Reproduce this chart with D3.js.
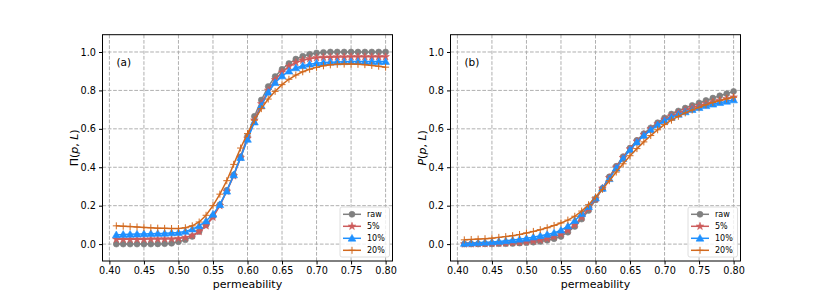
<!DOCTYPE html>
<html>
<head>
<meta charset="utf-8">
<script src="https://cdn.jsdelivr.net/npm/d3@7"></script>
<style>
  body { margin: 0; background: #fff; }
  svg { display: block; font-family: "DejaVu Sans", sans-serif; }
</style>
</head>
<body>
<div id="chart"></div>
<script>
// permeability values (x axis)
var perm = [0.41,0.42,0.43,0.44,0.45,0.46,0.47,0.48,0.49,0.50,
            0.51,0.52,0.53,0.54,0.55,0.56,0.57,0.58,0.59,0.60,
            0.61,0.62,0.63,0.64,0.65,0.66,0.67,0.68,0.69,0.70,
            0.71,0.72,0.73,0.74,0.75,0.76,0.77,0.78,0.79,0.80];

var seriesNames = ["raw", "5%", "10%", "20%"];
var xTicks = [0.40,0.45,0.50,0.55,0.60,0.65,0.70,0.75,0.80];
var yTicks = [0.0,0.2,0.4,0.6,0.8,1.0];

// panel (a): Pi(p,L)
var piRaw = [0.000,0.000,0.000,0.000,0.000,0.000,0.001,0.002,0.004,0.012,
             0.022,0.040,0.065,0.100,0.145,0.205,0.280,0.360,0.455,0.560,
             0.665,0.750,0.820,0.872,0.910,0.940,0.963,0.978,0.988,0.995,
             0.998,1.000,1.000,1.000,1.000,1.000,1.000,1.000,1.000,1.000];
var pi5   = [0.025,0.025,0.025,0.025,0.025,0.026,0.026,0.027,0.027,0.029,
             0.034,0.045,0.065,0.095,0.140,0.200,0.275,0.355,0.450,0.550,
             0.645,0.730,0.800,0.855,0.895,0.925,0.945,0.957,0.965,0.970,
             0.972,0.973,0.974,0.974,0.975,0.975,0.975,0.975,0.975,0.975];
var pi10  = [0.048,0.050,0.051,0.052,0.053,0.054,0.055,0.056,0.058,0.060,
             0.066,0.078,0.095,0.120,0.155,0.205,0.275,0.360,0.450,0.545,
             0.635,0.720,0.790,0.840,0.875,0.900,0.917,0.928,0.936,0.942,
             0.945,0.947,0.948,0.949,0.950,0.950,0.950,0.950,0.950,0.950];
var pi20  = [0.095,0.093,0.091,0.089,0.087,0.085,0.083,0.082,0.081,0.081,
             0.085,0.095,0.115,0.150,0.200,0.260,0.330,0.415,0.500,0.575,
             0.645,0.705,0.755,0.795,0.830,0.858,0.880,0.897,0.910,0.920,
             0.928,0.933,0.936,0.937,0.937,0.936,0.934,0.930,0.926,0.921];

// panel (b): P(p,L)
var pRaw  = [0.000,0.000,0.000,0.001,0.001,0.002,0.002,0.003,0.005,0.007,
             0.010,0.014,0.020,0.028,0.040,0.062,0.092,0.130,0.175,0.230,
             0.290,0.350,0.405,0.455,0.500,0.540,0.575,0.605,0.632,0.657,
             0.677,0.693,0.708,0.722,0.735,0.748,0.760,0.772,0.783,0.795];
var p5    = [0.000,0.001,0.002,0.002,0.003,0.004,0.005,0.007,0.009,0.012,
             0.016,0.021,0.028,0.038,0.052,0.072,0.100,0.140,0.185,0.235,
             0.290,0.345,0.400,0.450,0.495,0.535,0.570,0.600,0.625,0.648,
             0.667,0.683,0.697,0.710,0.720,0.730,0.740,0.748,0.757,0.765];
var p10   = [0.003,0.005,0.007,0.009,0.011,0.014,0.017,0.021,0.025,0.030,
             0.036,0.043,0.050,0.058,0.072,0.093,0.122,0.158,0.195,0.240,
             0.290,0.340,0.395,0.445,0.490,0.530,0.565,0.595,0.620,0.642,
             0.660,0.675,0.688,0.700,0.710,0.720,0.728,0.736,0.743,0.750];
var p20   = [0.022,0.024,0.026,0.028,0.031,0.035,0.039,0.044,0.050,0.058,
             0.066,0.075,0.085,0.097,0.110,0.125,0.145,0.172,0.205,0.245,
             0.285,0.330,0.375,0.418,0.460,0.497,0.532,0.565,0.595,0.622,
             0.645,0.665,0.683,0.698,0.712,0.725,0.737,0.747,0.756,0.764];

var colors = ["#808080", "#cd5c5c", "#1e90ff", "#d2691e"];
var markers = ["circle", "star", "triangle", "plus"];

var W = 822, H = 294;
var svg = d3.select("#chart").append("svg").attr("width", W).attr("height", H);

function markerPath(type) {
    if (type == "circle") return d3.symbol().type(d3.symbolCircle).size(28)();
    if (type == "star") return d3.symbol().type(d3.symbolStar).size(18)();
    if (type == "triangle") return d3.symbol().type(d3.symbolTriangle).size(26)();
    return "M-3.5,0H3.5M0,-3.5V3.5";
}

function drawMarker(g, type, color, x, y) {
    var m = g.append("path").attr("d", markerPath(type))
        .attr("transform", "translate(" + x + "," + (type == "triangle" ? y + 0.6 : y) + ")");
    if (type == "plus") {
        m.attr("fill", "none").attr("stroke", color).attr("stroke-width", 1);
    } else {
        m.attr("fill", color).attr("stroke", color).attr("stroke-width", 0.6);
    }
}

function panel(left, right, tag, ylabelMain, mainItalic, data) {
    var top = 34.7, bottom = 261;
    var x = d3.scaleLinear().domain([0.39, 0.81]).range([left, right]);
    var y = d3.scaleLinear().domain([-0.088, 1.09]).range([bottom, top]);
    var g = svg.append("g");

    // grid
    g.append("g").selectAll("line").data(xTicks).enter().append("line")
        .attr("x1", function(d){ return x(d); }).attr("x2", function(d){ return x(d); })
        .attr("y1", top).attr("y2", bottom)
        .attr("stroke", "#b0b0b0").attr("stroke-width", 1).attr("stroke-dasharray", "3.7,1.6");
    g.append("g").selectAll("line").data(yTicks).enter().append("line")
        .attr("y1", function(d){ return y(d); }).attr("y2", function(d){ return y(d); })
        .attr("x1", left).attr("x2", right)
        .attr("stroke", "#b0b0b0").attr("stroke-width", 1).attr("stroke-dasharray", "3.7,1.6");

    // series
    var line = d3.line().x(function(d){ return x(d[0]); }).y(function(d){ return y(d[1]); });
    data.forEach(function(vals, i) {
        var pts = perm.map(function(p, j){ return [p, vals[j]]; });
        g.append("path").datum(pts).attr("d", line)
            .attr("fill", "none").attr("stroke", colors[i]).attr("stroke-width", 1.5);
        var mg = g.append("g");
        pts.forEach(function(pt) { drawMarker(mg, markers[i], colors[i], x(pt[0]), y(pt[1])); });
    });

    // axes
    g.append("g").attr("transform", "translate(0," + bottom + ")")
        .call(d3.axisBottom(x).tickValues(xTicks).tickFormat(d3.format(".2f")).tickSize(3.5).tickPadding(3))
        .call(function(a){ a.select(".domain").remove(); })
        .selectAll("text").attr("font-size", 9.7).attr("fill", "#000").attr("font-family", "DejaVu Sans");
    g.append("g").attr("transform", "translate(" + left + ",0)")
        .call(d3.axisLeft(y).tickValues(yTicks).tickFormat(d3.format(".1f")).tickSize(3.5).tickPadding(3))
        .call(function(a){ a.select(".domain").remove(); })
        .selectAll("text").attr("font-size", 9.7).attr("fill", "#000").attr("font-family", "DejaVu Sans");

    g.append("rect").attr("x", left).attr("y", top).attr("width", right - left).attr("height", bottom - top)
        .attr("fill", "none").attr("stroke", "#000").attr("stroke-width", 1);

    // labels
    g.append("text").attr("x", (left + right) / 2).attr("y", 288).attr("text-anchor", "middle")
        .attr("font-size", 11).text("permeability");
    var yl = g.append("text").attr("transform", "translate(" + (left - 25) + "," + ((top + bottom) / 2) + ") rotate(-90)")
        .attr("text-anchor", "middle").attr("font-size", 11);
    yl.append("tspan").attr("font-style", mainItalic ? "italic" : "normal").text(ylabelMain);
    yl.append("tspan").text("(");
    yl.append("tspan").attr("font-style", "italic").text("p");
    yl.append("tspan").text(", ");
    yl.append("tspan").attr("font-style", "italic").text("L");
    yl.append("tspan").text(")");

    g.append("text").attr("x", left + 14).attr("y", 66).attr("font-size", 10.5).text(tag);

    // legend
    var lx = right - 52.5, ly = 207;
    var lg = g.append("g");
    lg.append("rect").attr("x", lx).attr("y", ly).attr("width", 49.5).attr("height", 50)
        .attr("rx", 2).attr("fill", "#fff").attr("fill-opacity", 0.8)
        .attr("stroke", "#d6d6d6").attr("stroke-width", 0.8);
    seriesNames.forEach(function(name, i) {
        var ry = ly + 7.3 + i * 12;
        lg.append("line").attr("x1", lx + 3).attr("x2", lx + 21).attr("y1", ry).attr("y2", ry)
            .attr("stroke", colors[i]).attr("stroke-width", 1.5);
        drawMarker(lg, markers[i], colors[i], lx + 12, ry);
        lg.append("text").attr("x", lx + 27).attr("y", ry + 3).attr("font-size", 8).text(name);
    });
}

panel(102.5, 392.5, "(a)", "\u03a0", false, [piRaw, pi5, pi10, pi20]);
panel(450.5, 740.5, "(b)", "P", true, [pRaw, p5, p10, p20]);
</script>
</body>
</html>
